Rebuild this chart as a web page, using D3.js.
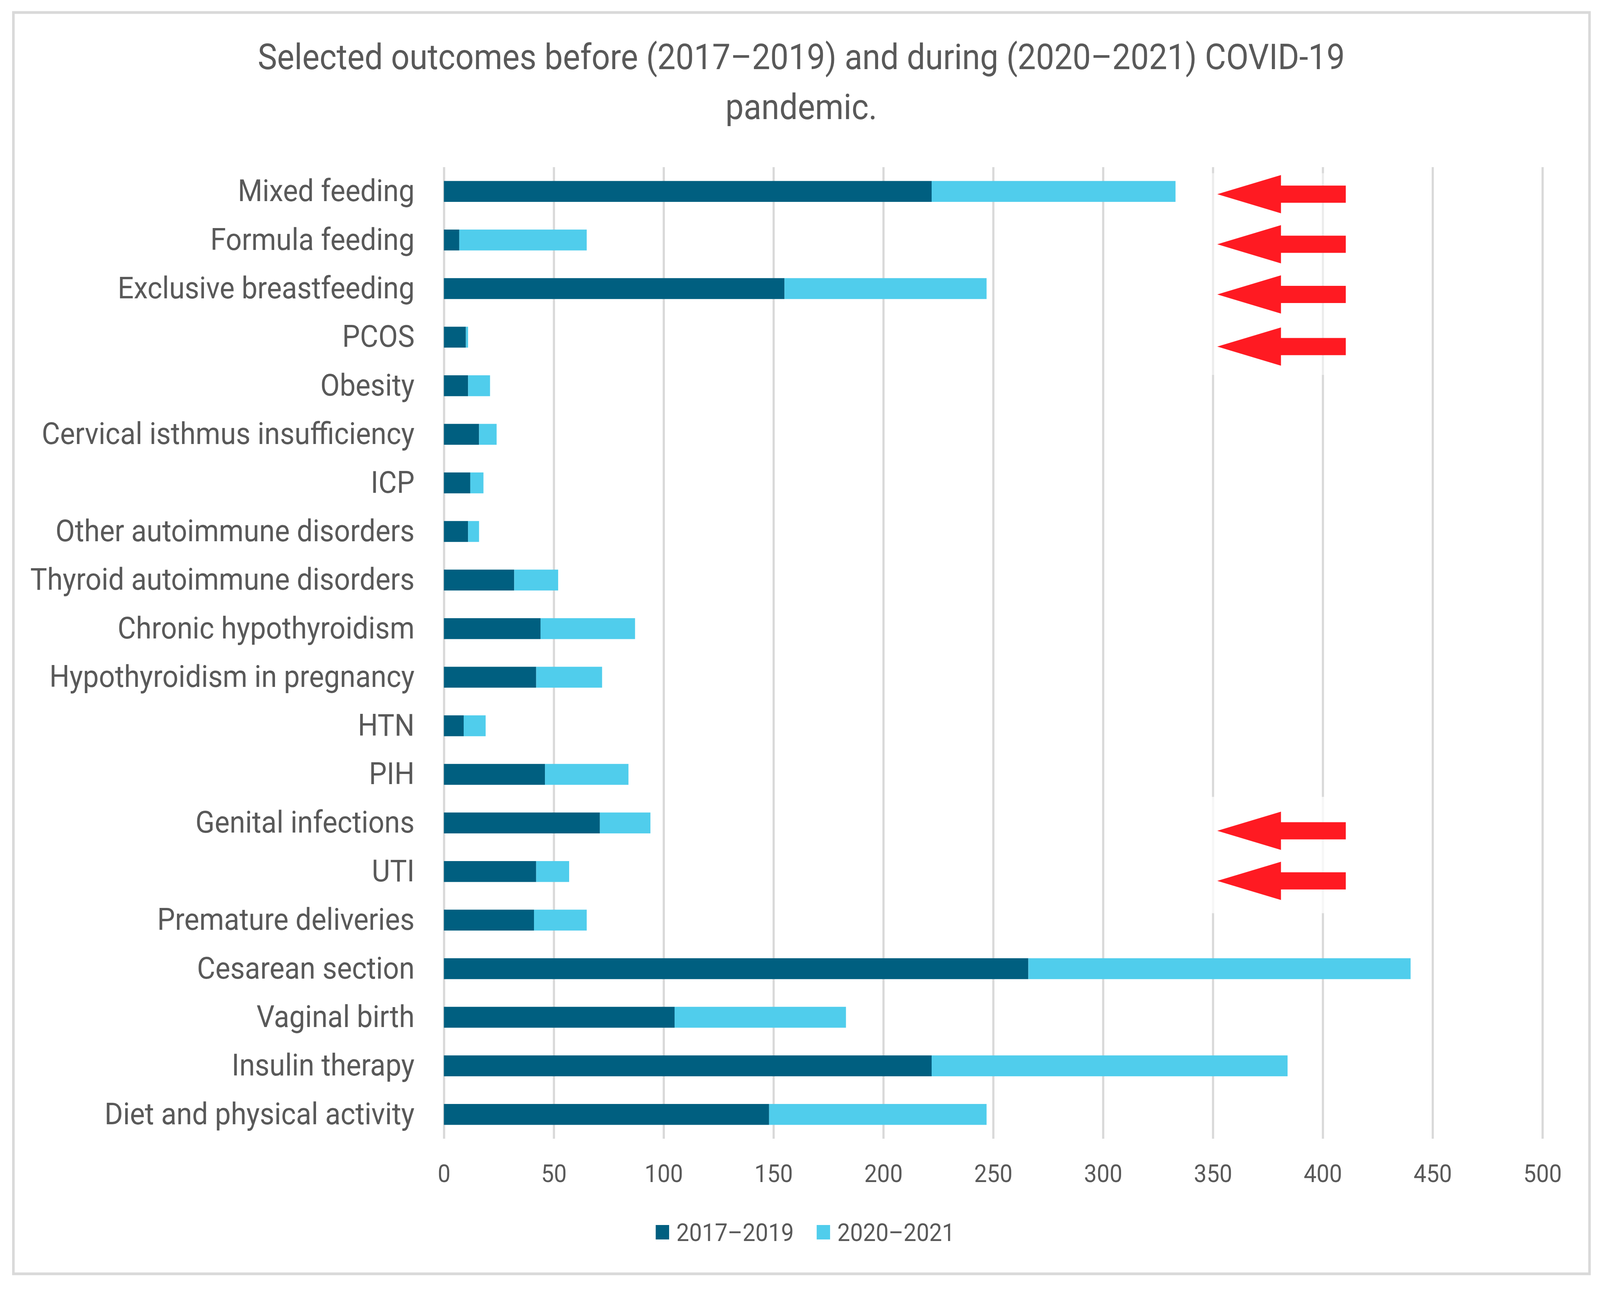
<!DOCTYPE html>
<meta charset="utf-8">
<style>
html, body { margin: 0; padding: 0; width: 100%; height: 100%; overflow: hidden; background: #fff; }
svg { display: block; }
text { font-family: Roboto, "Noto Sans", sans-serif; fill: #595959; }
</style>
<body>
<script src="https://cdn.jsdelivr.net/npm/d3@7"></script>
<script>

var categories = ["Mixed feeding", "Formula feeding", "Exclusive breastfeeding", "PCOS", "Obesity",
  "Cervical isthmus insufficiency", "ICP", "Other autoimmune disorders", "Thyroid autoimmune disorders",
  "Chronic hypothyroidism", "Hypothyroidism in pregnancy", "HTN", "PIH", "Genital infections", "UTI",
  "Premature deliveries", "Cesarean section", "Vaginal birth", "Insulin therapy", "Diet and physical activity"];

var before = [222, 7, 155, 10, 11, 16, 12, 11, 32, 44, 42, 9, 46, 71, 42, 41, 266, 105, 222, 148];
var during = [111, 58, 92, 1, 10, 8, 6, 5, 20, 43, 30, 10, 38, 23, 15, 24, 174, 78, 162, 99];

var seriesNames = ["2017\u20132019", "2020\u20132021"];
var xTicks = [0, 50, 100, 150, 200, 250, 300, 350, 400, 450, 500];
var titleLines = ["Selected outcomes before (2017\u20132019) and during (2020\u20132021) COVID-19", "pandemic."];

// categories flagged with red arrows
var arrowCats = ["Mixed feeding", "Formula feeding", "Exclusive breastfeeding", "PCOS", "Genital infections", "UTI"];
var arrowShift = [7, 11, 15, 24, 20, 24];

var W = 4419, H = 3306;
var colors = ["#005f80", "#50cdec"];

// drawn in a 4419x3306 frame, stretched to whatever the window really is
var svg = d3.select("body").append("svg")
    .attr("viewBox", "0 0 " + W + " " + H)
    .attr("width", "100%")
    .attr("height", "100%")
    .attr("preserveAspectRatio", "none");

svg.append("rect")
  .attr("x", 37).attr("y", 32)
  .attr("width", 4353).attr("height", 3230)
  .attr("fill", "#fff")
  .attr("stroke", "#d9d9d9")
  .attr("stroke-width", 7);

var x = d3.scaleLinear().domain([0, 500]).range([1226, 4260]);
var y = d3.scaleBand().domain(categories).range([428, 2916]).paddingInner(0.57).paddingOuter(0.285);

// gridlines
var grid = svg.append("g")
  .attr("transform", "translate(0,2916)")
  .call(d3.axisBottom(x).tickValues(xTicks).tickSize(-(2916 - 428)).tickFormat(""));
grid.select(".domain").remove();
grid.selectAll("line").attr("stroke", "#d9d9d9").attr("stroke-width", 6);

// stacked bars
var rows = categories.map(function(c, i) { return { cat: c, v: [before[i], during[i]] }; });
var stack = d3.stack().keys([0, 1]).value(function(d, k) { return d.v[k]; });
var layers = stack(rows);

svg.selectAll(".layer")
  .data(layers)
  .enter().append("g")
  .attr("fill", function(d, i) { return colors[i]; })
  .selectAll("rect")
  .data(function(d) { return d; })
  .enter().append("rect")
  .attr("x", function(d) { return x(d[0]); })
  .attr("width", function(d) { return x(d[1]) - x(d[0]); })
  .attr("y", function(d) { return y(d.data.cat); })
  .attr("height", y.bandwidth());

// x tick labels
var xa = svg.append("g")
  .attr("transform", "translate(0,2916)")
  .call(d3.axisBottom(x).tickValues(xTicks).tickSize(0).tickPadding(66));
xa.select(".domain").remove();
xa.selectAll("text").attr("font-size", 63).attr("fill", "#595959");

// category labels
var ya = svg.append("g")
  .attr("transform", "translate(1226,0)")
  .call(d3.axisLeft(y).tickSize(0).tickPadding(81));
ya.select(".domain").remove();
ya.selectAll("text").attr("font-size", 78).attr("fill", "#595959");

// title
svg.append("g").selectAll("text")
  .data(titleLines)
  .enter().append("text")
  .attr("x", 2213)
  .attr("y", function(d, i) { return 177 + i * 128; })
  .attr("text-anchor", "middle")
  .attr("font-size", 90)
  .text(function(d) { return d; });

// red arrows (pasted annotation shapes, with a faint white backing)
var arrows = svg.append("g");
var hy = 49, sy = 22;
var xTip = x(352), xBase = x(381), xEnd = x(410.5);
arrows.append("rect")
  .attr("x", xTip - 20).attr("y", y(arrowCats[0]) - 20)
  .attr("width", xEnd - xTip + 30)
  .attr("height", y(arrowCats[3]) + y.bandwidth() + 90 - y(arrowCats[0]))
  .attr("fill", "#fff").attr("opacity", 0.5);
arrows.append("rect")
  .attr("x", xTip - 20).attr("y", y(arrowCats[4]) - 40)
  .attr("width", xEnd - xTip + 30)
  .attr("height", y(arrowCats[5]) + y.bandwidth() + 120 - y(arrowCats[4]))
  .attr("fill", "#fff").attr("opacity", 0.75);
arrowCats.forEach(function(c, i) {
  var cy = y(c) + y.bandwidth() / 2 + arrowShift[i];
  arrows.append("path")
    .attr("d", "M" + xTip + "," + cy +
      "L" + xBase + "," + (cy - hy) +
      "L" + xBase + "," + (cy - sy) +
      "L" + xEnd + "," + (cy - sy) +
      "L" + xEnd + "," + (cy + sy) +
      "L" + xBase + "," + (cy + sy) +
      "L" + xBase + "," + (cy + hy) + "Z")
    .attr("fill", "#ff1a22");
});

// legend
var legend = svg.append("g");
var lx = 1811;
seriesNames.forEach(function(s, i) {
  var g = legend.append("g").attr("transform", "translate(" + lx + ",0)");
  g.append("rect").attr("x", 0).attr("y", 3137).attr("width", 37).attr("height", 37).attr("fill", colors[i]);
  var t = g.append("text").attr("x", 57).attr("y", 3178).attr("font-size", 63).text(s);
  lx += 57 + t.node().getComputedTextLength() + 63;
});

</script>
